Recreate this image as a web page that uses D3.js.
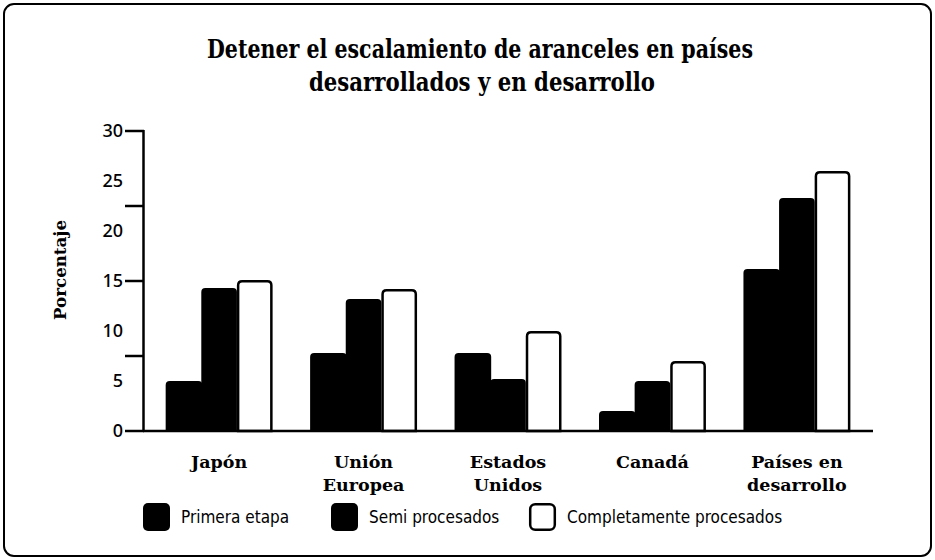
<!DOCTYPE html>
<html>
<head>
<meta charset="utf-8">
<script src="https://cdn.jsdelivr.net/npm/d3@7"></script>
<style>
  body { margin: 0; background: #fff; }
  svg { display: block; }
</style>
</head>
<body>
<svg id="chart" width="935" height="560"></svg>
<script>
const categories = [["Japón"], ["Unión", "Europea"], ["Estados", "Unidos"], ["Canadá"], ["Países en", "desarrollo"]];
const seriesNames = ["Primera etapa", "Semi procesados", "Completamente procesados"];
const primeraEtapa = [5, 7.8, 7.8, 2, 16.2];
const semiProcesados = [14.3, 13.2, 5.2, 5, 23.3];
const completos = [15.1, 14.2, 10, 7, 26];
const yLabels = [0, 5, 10, 15, 20, 25, 30];
const yTickMarks = [0, 7.5, 15, 22.5, 30];

const svg = d3.select("#chart");
const W = 935, H = 560;

// marco redondeado
svg.append("rect")
    .attr("x", 4).attr("y", 4)
    .attr("width", W - 8).attr("height", H - 8)
    .attr("rx", 10)
    .attr("fill", "none").attr("stroke", "#000").attr("stroke-width", 2);

const titleFont = "'DejaVu Serif', serif";
const title = svg.append("text")
    .attr("text-anchor", "middle")
    .attr("font-family", titleFont)
    .attr("font-weight", "bold")
    .attr("font-size", 26);
title.append("tspan").attr("x", 480).attr("y", 58).text("Detener el escalamiento de aranceles en países");
title.append("tspan").attr("x", 482).attr("y", 91).text("desarrollados y en desarrollo");

// ajustar ancho del título al original
title.selectAll("tspan").each(function (d, i) {
    const target = i === 0 ? 546 : 346;
    d3.select(this).attr("textLength", target).attr("lengthAdjust", "spacingAndGlyphs");
});

const x0 = d3.scaleBand()
    .domain(d3.range(categories.length))
    .range([144, 872])
    .paddingInner(0.26)
    .paddingOuter(0.15);

const x1 = d3.scaleBand()
    .domain(d3.range(seriesNames.length))
    .range([0, x0.bandwidth()]);

const y = d3.scaleLinear().domain([0, 30]).range([431, 131]);

const groups = categories.map((c, i) => ({
    i: i,
    values: [primeraEtapa[i], semiProcesados[i], completos[i]]
}));

function topRounded(x, yTop, w, h, r) {
    return `M${x},${yTop + h}V${yTop + r}Q${x},${yTop} ${x + r},${yTop}H${x + w - r}Q${x + w},${yTop} ${x + w},${yTop + r}V${yTop + h}Z`;
}

const g = svg.selectAll("g.grp")
    .data(groups)
    .enter()
    .append("g")
    .attr("class", "grp")
    .attr("transform", d => `translate(${x0(d.i)},0)`);

g.selectAll("path")
    .data(d => d.values.map((v, s) => ({ v: v, s: s })))
    .enter()
    .append("path")
    .attr("d", d => {
        if (d.s === 2) {
            return topRounded(x1(d.s) + 1.2, y(d.v) + 1.2, x1.bandwidth() - 2.4, y(0) - y(d.v) - 1.2, 4);
        }
        return topRounded(x1(d.s), y(d.v), x1.bandwidth() + (d.s === 0 ? 1 : 0), y(0) - y(d.v), 4);
    })
    .attr("fill", d => d.s === 2 ? "#fff" : "#000")
    .attr("stroke", d => d.s === 2 ? "#000" : "none")
    .attr("stroke-width", 2.5);

// ejes
svg.append("line")
    .attr("x1", 143).attr("x2", 873)
    .attr("y1", y(0)).attr("y2", y(0))
    .attr("stroke", "#000").attr("stroke-width", 2.5);
svg.append("line")
    .attr("x1", 143.5).attr("x2", 143.5)
    .attr("y1", y(30) - 1).attr("y2", y(0))
    .attr("stroke", "#000").attr("stroke-width", 2.5);

svg.selectAll("line.tick")
    .data(yTickMarks)
    .enter()
    .append("line")
    .attr("class", "tick")
    .attr("x1", 125).attr("x2", 144)
    .attr("y1", d => y(d)).attr("y2", d => y(d))
    .attr("stroke", "#000").attr("stroke-width", 2.5);

const sansFont = "'Noto Sans', sans-serif";
svg.selectAll("text.ylab")
    .data(yLabels)
    .enter()
    .append("text")
    .attr("class", "ylab")
    .attr("x", 123)
    .attr("y", d => y(d))
    .attr("dy", "0.36em")
    .attr("text-anchor", "end")
    .attr("font-family", sansFont)
    .attr("font-weight", 500)
    .attr("font-size", 18)
    .text(d => d);

svg.append("text")
    .attr("transform", "translate(66,270) rotate(-90)")
    .attr("text-anchor", "middle")
    .attr("font-family", titleFont)
    .attr("font-weight", "bold")
    .attr("font-size", 17)
    .attr("textLength", 100)
    .attr("lengthAdjust", "spacingAndGlyphs")
    .text("Porcentaje");

// etiquetas de categoría
const catText = svg.selectAll("text.cat")
    .data(categories)
    .enter()
    .append("text")
    .attr("class", "cat")
    .attr("text-anchor", "middle")
    .attr("font-family", titleFont)
    .attr("font-weight", "bold")
    .attr("font-size", 17.5);

catText.selectAll("tspan")
    .data((d, i) => d.map((line, k) => ({ line: line, k: k, i: i })))
    .enter()
    .append("tspan")
    .attr("x", d => x0(d.i) + x0.bandwidth() / 2)
    .attr("y", d => 468 + d.k * 23)
    .text(d => d.line);

// leyenda
const legendX = [143, 331, 529];
const legend = svg.selectAll("g.leg")
    .data(seriesNames)
    .enter()
    .append("g")
    .attr("class", "leg")
    .attr("transform", (d, i) => `translate(${legendX[i]},503)`);

legend.append("rect")
    .attr("x", (d, i) => i === 2 ? 1.2 : 0)
    .attr("y", (d, i) => i === 2 ? 1.2 : 0)
    .attr("width", (d, i) => i === 2 ? 24.6 : 27)
    .attr("height", (d, i) => i === 2 ? 25.6 : 28)
    .attr("rx", 5)
    .attr("fill", (d, i) => i === 2 ? "#fff" : "#000")
    .attr("stroke", "#000")
    .attr("stroke-width", (d, i) => i === 2 ? 2.5 : 0);

legend.append("text")
    .attr("x", 38)
    .attr("y", 20)
    .attr("font-family", "'DejaVu Sans Condensed', 'DejaVu Sans', sans-serif")
    .attr("font-stretch", "condensed")
    .attr("font-size", 17)
    .text(d => d);
</script>
</body>
</html>
